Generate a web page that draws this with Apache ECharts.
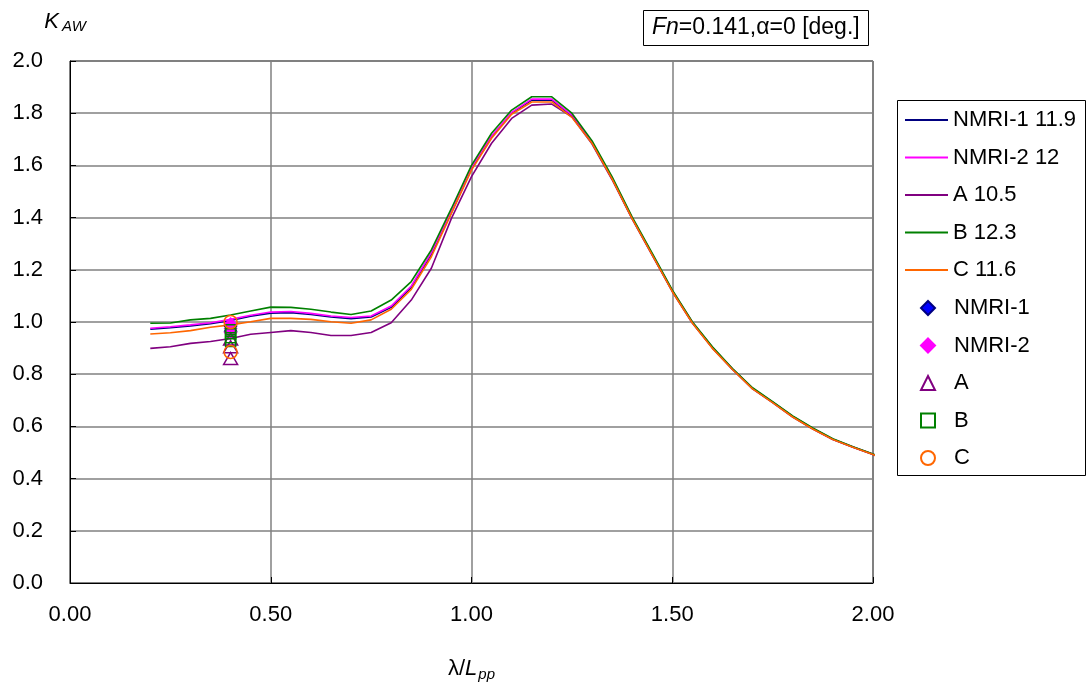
<!DOCTYPE html>
<html><head><meta charset="utf-8">
<script src="https://cdn.jsdelivr.net/npm/echarts@6/dist/echarts.min.js"></script>
<style>html,body{margin:0;padding:0;background:#fff}#c{width:1089px;height:691px}</style>
</head><body><div id="c"></div>
<script>
const xs = [0.2,0.25,0.3,0.35,0.4,0.45,0.5,0.55,0.6,0.65,0.7,0.75,0.8,0.85,0.9,0.95,1.0,1.05,1.1,1.15,1.2,1.25,1.3,1.35,1.4,1.45,1.5,1.55,1.6,1.65,1.7,1.75,1.8,1.85,1.9,1.95,2.0,2.02];
const nmri1Calc = [0.972,0.978,0.985,0.993,1.006,1.022,1.034,1.036,1.029,1.019,1.013,1.019,1.056,1.132,1.260,1.420,1.588,1.709,1.800,1.850,1.850,1.790,1.688,1.550,1.398,1.259,1.119,0.998,0.902,0.820,0.746,0.693,0.638,0.592,0.551,0.521,0.493,0.481];
const nmri2Calc = [0.976,0.982,0.989,0.997,1.010,1.026,1.038,1.040,1.033,1.023,1.017,1.023,1.061,1.138,1.266,1.426,1.593,1.713,1.803,1.854,1.854,1.793,1.690,1.552,1.399,1.260,1.120,0.999,0.902,0.820,0.746,0.693,0.638,0.592,0.551,0.521,0.493,0.481];
const aCalc = [0.899,0.905,0.918,0.925,0.937,0.953,0.960,0.967,0.960,0.948,0.948,0.960,0.997,1.084,1.206,1.397,1.557,1.685,1.780,1.831,1.835,1.786,1.683,1.546,1.395,1.256,1.117,0.996,0.900,0.818,0.744,0.691,0.636,0.590,0.550,0.520,0.492,0.480];
const bCalc = [0.995,0.996,1.008,1.014,1.027,1.042,1.057,1.056,1.049,1.038,1.029,1.042,1.084,1.155,1.276,1.435,1.600,1.723,1.812,1.863,1.863,1.800,1.695,1.557,1.403,1.264,1.123,1.001,0.905,0.822,0.748,0.695,0.640,0.594,0.553,0.522,0.494,0.482];
const cCalc = [0.954,0.959,0.967,0.980,0.989,1.001,1.014,1.014,1.010,1.001,0.995,1.008,1.049,1.125,1.250,1.416,1.582,1.704,1.796,1.843,1.843,1.784,1.685,1.548,1.396,1.257,1.117,0.996,0.899,0.818,0.744,0.691,0.636,0.590,0.550,0.520,0.492,0.480];
const expX = 0.4;
const nmri1Exp = [0.985,0.965];
const nmri2Exp = [0.99,0.975,0.96];
const aExp = [0.935,0.905,0.86];
const bExp = [0.97,0.955,0.94,0.925];
const cExp = [1.0,0.885];
const lineNames = ['NMRI-1 11.9','NMRI-2 12','A 10.5','B 12.3','C 11.6'];
const expNames = ['NMRI-1','NMRI-2','A','B','C'];

const FONT = 'Liberation Sans, Arial, sans-serif';
const FS = 22;
function pairs(x, ys){ return ys.map((y,i)=>[Array.isArray(x)?x[i]:x, y]); }
function lineS(name, ys, color){
  return {name, type:'line', data:pairs(xs, ys), symbol:'none', showSymbol:false, smooth:false, clip:false,
    lineStyle:{color, width:1.6}, itemStyle:{color}, z:2, animation:false};
}
function scat(name, ys, symbol, size, fill, border){
  return {name, type:'scatter', data:pairs(expX, ys), symbol, symbolSize:size,
    itemStyle:{color:fill, borderColor:border, borderWidth:1.5, opacity:1}, z:3, animation:false};
}
const chart = echarts.init(document.getElementById('c'));
chart.setOption({
  backgroundColor:'#fff',
  animation:false,
  textStyle:{fontFamily:FONT},
  title:{
    text:'{i|Fn}=0.141,α=0 [deg.]', left:643, top:10,
    borderColor:'#000', borderWidth:1, padding:[6,9,7,9],
    textStyle:{fontFamily:FONT, fontSize:23, fontWeight:'normal', color:'#000',
      rich:{i:{fontFamily:FONT, fontSize:23, fontStyle:'italic', color:'#000'}}}
  },
  graphic:[{type:'rect', shape:{x:897.5, y:100.5, width:188, height:375}, style:{fill:'none', stroke:'#000', lineWidth:1}, silent:true}],
  legend:[
    {data:lineNames, orient:'vertical', left:905, top:109, icon:'rect', itemWidth:43, itemHeight:2, itemGap:15.5,
     textStyle:{fontFamily:FONT, fontSize:FS, color:'#000'}, padding:0},
    {data:expNames, orient:'vertical', left:920, top:297, itemWidth:14, itemHeight:14, itemGap:15.5,
     textStyle:{fontFamily:FONT, fontSize:FS, color:'#000', padding:[0,0,0,14]}, padding:0}
  ],
  grid:{left:70, right:216, top:61, bottom:108, show:true, borderColor:'#000', borderWidth:1, backgroundColor:'transparent'},
  xAxis:{type:'value', min:0, max:2, interval:0.5,
    name:'{n|λ/}{i|L}{s|pp}', nameLocation:'middle', nameGap:72,
    nameTextStyle:{rich:{n:{fontFamily:FONT,fontSize:FS,color:'#000'}, i:{fontFamily:FONT,fontSize:FS,fontStyle:'italic',color:'#000'}, s:{fontFamily:FONT,fontSize:15,fontStyle:'italic',color:'#000',padding:[12,0,0,1]}}},
    axisLine:{lineStyle:{color:'#000', width:1}},
    axisTick:{inside:true, length:6, lineStyle:{color:'#000'}},
    axisLabel:{fontFamily:FONT, fontSize:FS, color:'#000', margin:21, formatter:v=>v.toFixed(2)},
    splitLine:{show:true, lineStyle:{color:'#808080', width:1.5}}
  },
  yAxis:{type:'value', min:0, max:2, interval:0.2,
    name:'{i|K}{s|AW}', nameLocation:'end', nameGap:27,
    nameTextStyle:{align:'center', padding:[0,10,0,0], rich:{i:{fontFamily:FONT,fontSize:FS,fontStyle:'italic',color:'#000'}, s:{fontFamily:FONT,fontSize:15,fontStyle:'italic',color:'#000',padding:[10,0,0,3]}}},
    axisLine:{show:true, lineStyle:{color:'#000', width:1}},
    axisTick:{show:true, inside:true, length:6, lineStyle:{color:'#000'}},
    axisLabel:{fontFamily:FONT, fontSize:FS, color:'#000', margin:27, formatter:v=>v.toFixed(1)},
    splitLine:{show:true, lineStyle:{color:'#808080', width:1.5}}
  },
  series:[
    lineS(lineNames[0], nmri1Calc, '#000080'),
    lineS(lineNames[1], nmri2Calc, '#FF00FF'),
    lineS(lineNames[2], aCalc, '#800080'),
    lineS(lineNames[3], bCalc, '#008000'),
    lineS(lineNames[4], cCalc, '#FF6600'),
    scat(expNames[0], nmri1Exp, 'diamond', [12,13], '#0000FF', '#000080'),
    scat(expNames[1], nmri2Exp, 'diamond', [12,13], '#FF00FF', '#FF00FF'),
    scat(expNames[2], aExp, 'triangle', [14,12], 'rgba(0,0,0,0)', '#800080'),
    scat(expNames[3], bExp, 'rect', [10,10], 'rgba(0,0,0,0)', '#008000'),
    scat(expNames[4], cExp, 'circle', [13,13], 'rgba(0,0,0,0)', '#FF6600')
  ]
});
</script></body></html>
